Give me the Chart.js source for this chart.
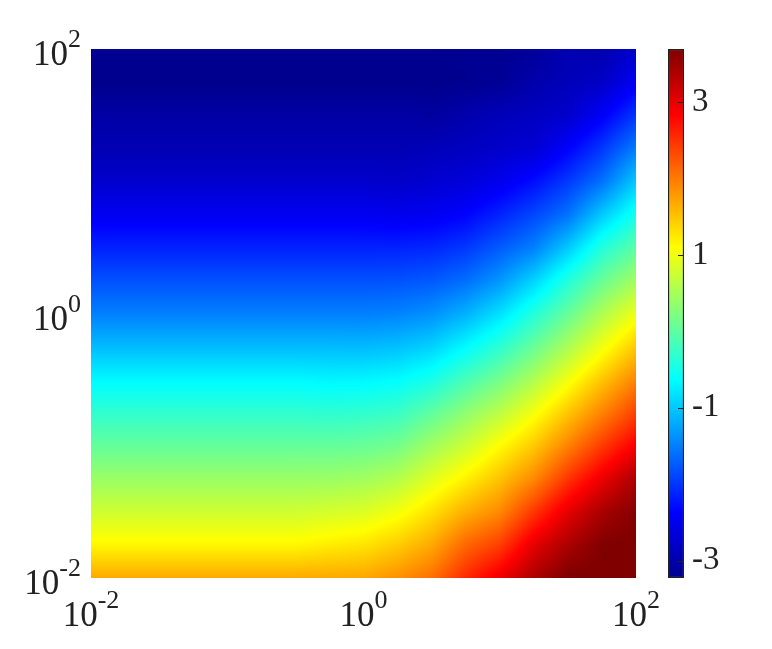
<!DOCTYPE html>
<html>
<head>
<meta charset="utf-8">
<style>
  body { margin: 0; background: #fff; }
  canvas { position: absolute; left: 0; top: 0; }
</style>
<script src="https://cdn.jsdelivr.net/npm/chart.js@4/dist/chart.umd.min.js"></script>
</head>
<body>
<canvas id="heatChart" width="772" height="649"></canvas>
<canvas id="barChart" width="772" height="649"></canvas>
<script>
const xGrid = [0.01, 0.0178, 0.0316, 0.0562, 0.1, 0.178, 0.316, 0.562, 1, 1.78, 3.16, 5.62, 10, 17.8, 31.6, 56.2, 100];
const yGrid = [0.01, 0.0178, 0.0316, 0.0562, 0.1, 0.178, 0.316, 0.562, 1, 1.78, 3.16, 5.62, 10, 17.8, 31.6, 56.2, 100];

// one row per yGrid entry, bottom row first
const zRows = [
  [1.68, 1.68, 1.68, 1.68, 1.68, 1.68, 1.68, 1.69, 1.7, 1.85, 2.07, 2.55, 2.95, 3.4, 3.72, 3.72, 3.7],
  [1.15, 1.15, 1.15, 1.15, 1.15, 1.15, 1.15, 1.22, 1.28, 1.44, 1.68, 2.13, 2.41, 3.0, 3.4, 3.68, 3.72],
  [0.77, 0.77, 0.77, 0.77, 0.77, 0.77, 0.77, 0.81, 0.86, 1.02, 1.3, 1.64, 1.9, 2.46, 3.0, 3.42, 3.65],
  [0.41, 0.41, 0.41, 0.41, 0.41, 0.41, 0.41, 0.42, 0.46, 0.59, 0.89, 1.19, 1.51, 1.9, 2.47, 2.95, 3.4],
  [0.05, 0.05, 0.05, 0.05, 0.05, 0.05, 0.05, 0.05, 0.07, 0.16, 0.46, 0.75, 1.11, 1.46, 1.94, 2.43, 2.87],
  [-0.31, -0.31, -0.31, -0.31, -0.31, -0.31, -0.31, -0.33, -0.31, -0.25, 0.01, 0.33, 0.64, 1.03, 1.48, 1.93, 2.39],
  [-0.67, -0.67, -0.67, -0.67, -0.67, -0.67, -0.67, -0.7, -0.69, -0.64, -0.48, -0.15, 0.16, 0.55, 1.01, 1.48, 1.93],
  [-1.09, -1.09, -1.09, -1.09, -1.09, -1.09, -1.09, -1.09, -1.1, -1.06, -0.94, -0.66, -0.34, 0.07, 0.52, 1.0, 1.46],
  [-1.5, -1.5, -1.5, -1.5, -1.5, -1.5, -1.5, -1.5, -1.5, -1.47, -1.38, -1.16, -0.84, -0.4, 0.05, 0.54, 0.98],
  [-1.82, -1.82, -1.82, -1.82, -1.82, -1.82, -1.82, -1.82, -1.82, -1.81, -1.76, -1.62, -1.34, -0.93, -0.41, 0.07, 0.47],
  [-2.14, -2.14, -2.14, -2.14, -2.14, -2.14, -2.14, -2.14, -2.14, -2.14, -2.11, -1.99, -1.75, -1.5, -1.0, -0.41, -0.02],
  [-2.47, -2.47, -2.47, -2.47, -2.47, -2.47, -2.47, -2.47, -2.47, -2.5, -2.47, -2.36, -2.13, -1.89, -1.59, -1.0, -0.5],
  [-2.75, -2.75, -2.75, -2.75, -2.75, -2.75, -2.75, -2.75, -2.75, -2.78, -2.72, -2.65, -2.5, -2.28, -1.98, -1.6, -1.0],
  [-2.95, -2.95, -2.95, -2.95, -2.95, -2.95, -2.95, -2.95, -2.95, -2.95, -2.9, -2.85, -2.78, -2.7, -2.38, -2.0, -1.51],
  [-3.05, -3.05, -3.05, -3.05, -3.05, -3.05, -3.05, -3.05, -3.05, -3.05, -3.1, -3.0, -2.9, -2.85, -2.75, -2.42, -2.0],
  [-3.25, -3.25, -3.25, -3.25, -3.25, -3.25, -3.25, -3.25, -3.25, -3.25, -3.25, -3.22, -3.18, -3.0, -2.9, -2.8, -2.45],
  [-3.2, -3.2, -3.2, -3.2, -3.2, -3.2, -3.2, -3.2, -3.2, -3.2, -3.2, -3.2, -3.2, -3.15, -2.95, -3.0, -2.75]
];

const axisTicks = [0.01, 1, 100];
const axisExponents = ['-2', '0', '2'];
const colorTicks = [-3, -1, 1, 3];
const colorMin = -3.226;
const colorMax = 3.693;

const jetStops = [
  [0, 0, 0, 143],
  [0.125, 0, 0, 255],
  [0.375, 0, 255, 255],
  [0.625, 255, 255, 0],
  [0.875, 255, 0, 0],
  [1, 128, 0, 0]
];

const textColor = '#222222';
const serif = '"Liberation Serif", serif';

function jetColor(v) {
  const f = Math.min(1, Math.max(0, (v - colorMin) / (colorMax - colorMin)));
  for (let i = 1; i < jetStops.length; i++) {
    if (f <= jetStops[i][0]) {
      const a = jetStops[i - 1], b = jetStops[i];
      const t = (f - a[0]) / (b[0] - a[0]);
      return [a[1] + (b[1] - a[1]) * t, a[2] + (b[2] - a[2]) * t, a[3] + (b[3] - a[3]) * t];
    }
  }
  return jetStops[jetStops.length - 1].slice(1);
}

function cellPos(grid, value) {
  const lv = Math.log10(value);
  let i = 0;
  while (i < grid.length - 2 && Math.log10(grid[i + 1]) < lv) i++;
  const a = Math.log10(grid[i]), b = Math.log10(grid[i + 1]);
  return [i, Math.min(1, Math.max(0, (lv - a) / (b - a)))];
}

// shading interp: each pixel is looked up through the chart's own scales
const heatShading = {
  id: 'heatShading',
  beforeDatasetsDraw(chart) {
    const { ctx, chartArea, scales } = chart;
    const left = Math.round(chartArea.left), top = Math.round(chartArea.top);
    const w = Math.round(chartArea.right) - left, h = Math.round(chartArea.bottom) - top;
    const img = ctx.createImageData(w, h);
    for (let py = 0; py < h; py++) {
      const [k, ty] = cellPos(yGrid, scales.y.getValueForPixel(top + py + 0.5));
      for (let px = 0; px < w; px++) {
        const [j, tx] = cellPos(xGrid, scales.x.getValueForPixel(left + px + 0.5));
        const low = zRows[k][j] * (1 - tx) + zRows[k][j + 1] * tx;
        const high = zRows[k + 1][j] * (1 - tx) + zRows[k + 1][j + 1] * tx;
        const c = jetColor(low * (1 - ty) + high * ty);
        const n = (py * w + px) * 4;
        img.data[n] = c[0];
        img.data[n + 1] = c[1];
        img.data[n + 2] = c[2];
        img.data[n + 3] = 255;
      }
    }
    ctx.putImageData(img, left, top);
  }
};

function drawPower(ctx, exponent, x, baseline, align) {
  ctx.textBaseline = 'alphabetic';
  ctx.textAlign = 'left';
  ctx.font = '35px ' + serif;
  const baseWidth = ctx.measureText('10').width;
  ctx.font = '26px ' + serif;
  const expWidth = ctx.measureText(exponent).width;
  const start = align === 'center' ? x - (baseWidth + expWidth) / 2 : x - baseWidth - expWidth;
  ctx.fillStyle = textColor;
  ctx.fillText(exponent, start + baseWidth, baseline - 18);
  ctx.font = '35px ' + serif;
  ctx.fillText('10', start, baseline);
}

const powerLabels = {
  id: 'powerLabels',
  afterDraw(chart) {
    const { ctx, scales } = chart;
    ctx.save();
    axisTicks.forEach((tick, i) => {
      drawPower(ctx, axisExponents[i], scales.x.getPixelForValue(tick), 626, 'center');
      drawPower(ctx, axisExponents[i], 81, scales.y.getPixelForValue(tick) + 16, 'right');
    });
    ctx.restore();
  }
};

const gridPoints = [];
yGrid.forEach((y, k) => xGrid.forEach((x, j) => gridPoints.push({ x: x, y: y, v: zRows[k][j] })));

new Chart(document.getElementById('heatChart'), {
  type: 'scatter',
  data: { datasets: [{ data: gridPoints, pointRadius: 0 }] },
  options: {
    responsive: false,
    animation: false,
    layout: { padding: { left: 91, right: 136, top: 49, bottom: 71 } },
    plugins: { legend: { display: false }, tooltip: { enabled: false } },
    scales: {
      x: { type: 'logarithmic', min: 0.01, max: 100, display: false },
      y: { type: 'logarithmic', min: 0.01, max: 100, display: false }
    }
  },
  plugins: [heatShading, powerLabels]
});

function barGradient(context) {
  const chart = context.chart;
  if (!chart.chartArea) return '#000';
  const g = chart.ctx.createLinearGradient(0, chart.chartArea.bottom, 0, chart.chartArea.top);
  jetStops.forEach(s => g.addColorStop(s[0], `rgb(${s[1]},${s[2]},${s[3]})`));
  return g;
}

const barTickMarks = {
  id: 'barTickMarks',
  afterDatasetsDraw(chart) {
    const { ctx, chartArea, scales } = chart;
    ctx.save();
    ctx.strokeStyle = textColor;
    ctx.lineWidth = 1;
    colorTicks.forEach(t => {
      const y = Math.round(scales.y.getPixelForValue(t)) + 0.5;
      ctx.beginPath();
      ctx.moveTo(chartArea.right - 6, y);
      ctx.lineTo(chartArea.right, y);
      ctx.stroke();
    });
    ctx.restore();
  }
};

new Chart(document.getElementById('barChart'), {
  type: 'bar',
  data: {
    labels: [''],
    datasets: [{
      data: [[colorMin, colorMax]],
      backgroundColor: barGradient,
      borderColor: textColor,
      borderWidth: 1.5,
      borderSkipped: false,
      barPercentage: 1,
      categoryPercentage: 1
    }]
  },
  options: {
    responsive: false,
    animation: false,
    layout: { padding: { left: 668, right: 38, top: 49, bottom: 71 } },
    plugins: { legend: { display: false }, tooltip: { enabled: false } },
    scales: {
      x: { display: false },
      y: {
        position: 'right',
        min: colorMin,
        max: colorMax,
        afterFit(scale) { scale.width = 50; },
        afterBuildTicks(scale) { scale.ticks = colorTicks.map(v => ({ value: v })); },
        grid: { display: false, drawTicks: false },
        border: { display: false },
        ticks: {
          padding: 8,
          color: textColor,
          font: { family: serif, size: 33 },
          callback: v => String(v)
        }
      }
    }
  },
  plugins: [barTickMarks]
});
</script>
</body>
</html>
